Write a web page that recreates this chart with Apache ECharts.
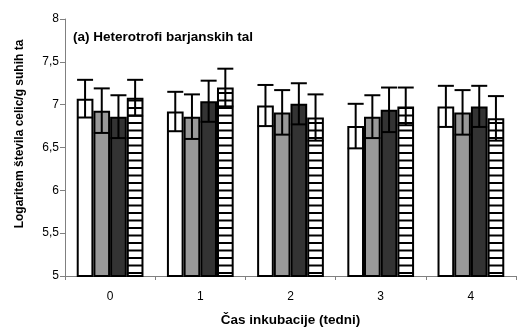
<!DOCTYPE html>
<html>
<head>
<meta charset="utf-8">
<script src="https://cdn.jsdelivr.net/npm/echarts@6/dist/echarts.min.js"></script>
<style>
  html, body { margin: 0; padding: 0; background: #fff; }
  #chart { width: 517px; height: 332px; }
</style>
</head>
<body>
<div id="chart"></div>
<script>
// Incubation time in weeks
const weeks = ['0', '1', '2', '3', '4'];

// Mean log cell counts per treatment
const seriesA = [7.07, 6.92, 6.99, 6.75, 6.98];
const seriesB = [6.93, 6.86, 6.91, 6.86, 6.91];
const seriesC = [6.86, 7.04, 7.01, 6.94, 6.98];
const seriesD = [7.08, 7.20, 6.85, 6.98, 6.84];

// Standard deviations
const errA = [0.22, 0.23, 0.24, 0.26, 0.24];
const errB = [0.26, 0.26, 0.26, 0.25, 0.26];
const errC = [0.25, 0.24, 0.24, 0.26, 0.24];
const errD = [0.21, 0.22, 0.27, 0.22, 0.26];

const yTicks = ['5', '5,5', '6', '6,5', '7', '7,5', '8'];

const means = [seriesA, seriesB, seriesC, seriesD];
const errs = [errA, errB, errC, errD];

// Horizontal stripe fill (two stripes per 15px tile)
function stripePattern() {
  const c = document.createElement('canvas');
  c.width = 8; c.height = 15;
  const ctx = c.getContext('2d');
  ctx.fillStyle = '#ffffff';
  ctx.fillRect(0, 0, 8, 15);
  ctx.fillStyle = '#000000';
  ctx.fillRect(0, 2, 8, 2);
  ctx.fillRect(0, 9.5, 8, 2);
  return c;
}

const fills = ['#ffffff', '#999999', '#333333', { image: stripePattern(), repeat: 'repeat' }];
const CAT_GAP = 0.26;

const barSeries = means.map((vals, i) => ({
  type: 'bar',
  data: vals,
  barGap: '0%',
  barCategoryGap: (CAT_GAP * 100) + '%',
  itemStyle: { color: fills[i], borderColor: '#000', borderWidth: 2 },
  silent: true,
  z: 2
}));

// Error bars drawn over the bars
const errData = [];
means.forEach((vals, s) => {
  vals.forEach((v, k) => errData.push([k, v - errs[s][k], v + errs[s][k], s]));
});

const errSeries = {
  type: 'custom',
  data: errData,
  z: 5,
  silent: true,
  renderItem: function (params, api) {
    const k = api.value(0), lo = api.value(1), hi = api.value(2), s = api.value(3);
    const band = api.size([1, 0])[0];
    const barW = band * (1 - CAT_GAP) / 4;
    const p0 = api.coord([k, lo]);
    const p1 = api.coord([k, hi]);
    const x = p0[0] - band * (1 - CAT_GAP) / 2 + barW * (s + 0.5);
    const half = 8;
    const style = { stroke: '#000', lineWidth: 2 };
    return {
      type: 'group',
      children: [
        { type: 'line', shape: { x1: x, y1: p0[1], x2: x, y2: p1[1] }, style: style },
        { type: 'line', shape: { x1: x - half, y1: p1[1], x2: x + half, y2: p1[1] }, style: style },
        { type: 'line', shape: { x1: x - half, y1: p0[1], x2: x + half, y2: p0[1] }, style: style }
      ]
    };
  }
};

const chart = echarts.init(document.getElementById('chart'), null, { renderer: 'canvas' });
chart.setOption({
  animation: false,
  backgroundColor: '#ffffff',
  textStyle: { fontFamily: 'Liberation Sans, Arial, sans-serif' },
  grid: { left: 65, right: 1, top: 19, bottom: 55, containLabel: false },
  xAxis: {
    type: 'category',
    data: weeks,
    name: 'Čas inkubacije (tedni)',
    nameLocation: 'middle',
    nameGap: 37,
    nameTextStyle: { fontSize: 13.5, fontWeight: 'bold', color: '#000' },
    axisLine: { lineStyle: { color: '#808080', width: 1 } },
    axisTick: { show: true, alignWithLabel: false, length: 4, lineStyle: { color: '#808080' } },
    axisLabel: { color: '#000', fontSize: 12, margin: 15 }
  },
  yAxis: {
    type: 'value',
    min: 5,
    max: 8,
    interval: 0.5,
    axisLine: { show: true, lineStyle: { color: '#808080', width: 1 } },
    axisTick: { show: true, length: 5, lineStyle: { color: '#808080' } },
    splitLine: { show: false },
    axisLabel: {
      color: '#000',
      fontSize: 12,
      margin: 6,
      formatter: function (v) { return yTicks[Math.round((v - 5) / 0.5)]; }
    }
  },
  graphic: [
    {
      type: 'text',
      left: 73,
      top: 30,
      style: {
        text: '(a) Heterotrofi barjanskih tal',
        font: 'bold 13.5px "Liberation Sans", Arial, sans-serif',
        fill: '#000'
      }
    },
    {
      type: 'text',
      x: 20,
      y: 134,
      rotation: Math.PI / 2,
      style: {
        text: 'Logaritem števila celic/g suhih ta',
        font: 'bold 12px "Liberation Sans", Arial, sans-serif',
        fill: '#000',
        textAlign: 'center',
        textVerticalAlign: 'middle'
      }
    }
  ],
  series: barSeries.concat([errSeries])
});
</script>
</body>
</html>
